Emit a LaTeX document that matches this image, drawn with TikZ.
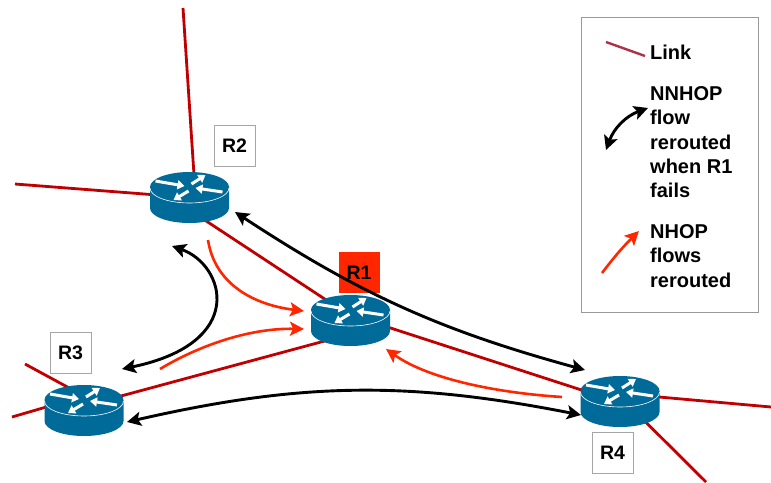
\documentclass[tikz,border=0pt]{standalone}
\usepackage{fontspec}
\setmainfont{Liberation Sans}
\usetikzlibrary{arrows.meta}
\usetikzlibrary{positioning}

\definecolor{linkred}{HTML}{C00000}
\definecolor{legendred}{HTML}{B03048}
\definecolor{flowred}{HTML}{FF2600}
\definecolor{routerblue}{HTML}{006A98}

\tikzset{
    routernode/.style={minimum width=79pt, minimum height=52pt, inner sep=0pt},
    linkline/.style={linkred, line width=2.8pt},
    nnhop/.style={black, line width=2.9pt, {Stealth[length=14pt,width=14pt,inset=3pt]}-{Stealth[length=14pt,width=14pt,inset=3pt]}},
    nhop/.style={flowred, line width=2.6pt, -{Stealth[length=14pt,width=14pt,inset=3pt]}},
    namebox/.style={draw=gray!70, line width=0.9pt, fill=white, minimum size=41pt, inner sep=0pt, font=\fontsize{19.5}{23}\selectfont\bfseries},
    legendtext/.style={anchor=north west, align=left, inner sep=0pt, font=\fontsize{20}{24.3}\selectfont\bfseries},
    routerarrow/.style={white, line width=3pt, -{Triangle[length=7pt,width=9pt]}},
    routericon/.pic={
        \fill[routerblue] (-39.5,0) -- (-39.5,21) arc[start angle=180, end angle=360, x radius=39.5pt, y radius=15pt] -- (39.5,0) arc[start angle=0, end angle=180, x radius=39.5pt, y radius=15pt] -- cycle;
        \draw[white, line width=0.6pt] (-39.5,1) arc[start angle=180, end angle=360, x radius=39.5pt, y radius=15pt];
        \draw[routerarrow] (-34,-6) -- (-5,-1);
        \draw[routerarrow] (2,-3) -- (16,-12);
        \draw[routerarrow] (33,5) -- (6,1);
        \draw[routerarrow] (-1,4) -- (-16,13);
    }
}

\begin{document}
\begin{tikzpicture}[x=1pt, y=-1pt]
    \useasboundingbox (0,0) rectangle (771,482);

    % Routers
    \node[routernode] (r1) at (350.5,321) {};
    \node[routernode] (r2) at (189.5,197.5) {};
    \node[routernode] (r3) at (84,411) {};
    \node[routernode] (r4) at (620,401.5) {};

    % Free ends of the links
    \coordinate (r2top) at (183,8);
    \coordinate (r2left) at (15,184);
    \coordinate (r3top) at (25,364);
    \coordinate (r3left) at (12,417);
    \coordinate (r4right) at (771,407);
    \coordinate (r4down) at (706,482);

    % Links
    \draw[linkline] (r2top) -- ([xshift=6pt]r2.center);
    \draw[linkline] (r2left) -- (r2.center);
    \draw[linkline] ([yshift=-12.5pt]r2.center) -- ([yshift=5pt]r1.center);
    \draw[linkline] ([yshift=5pt]r3.center) -- ([yshift=-13pt]r1.center);
    \draw[linkline] ([yshift=6pt]r1.center) -- ([yshift=-1pt]r4.center);
    \draw[linkline] (r3top) -- ([yshift=15pt]r3.center);
    \draw[linkline] (r3left) -- ([yshift=15pt]r3.center);
    \draw[linkline] (r4right) -- ([yshift=8pt]r4.center);
    \draw[linkline] (r4down) -- ([yshift=5pt]r4.center);

    % Router icons
    \foreach \name/\cx/\cy in {r1/350.5/310, r2/189.5/187, r3/84/400, r4/620/391}
        \pic at (\cx,\cy) {routericon};

    % Router names
    \node[namebox] (nameR2) at (234.5,146) {R2};
    \node[namebox, fill=flowred, draw=none] (nameR1) at (359,272.5) {R1};
    \node[namebox] (nameR3) at (70.5,353) {R3};
    \node[namebox] (nameR4) at (612.5,452.5) {R4};

    % Rerouted NNHOP flows
    \coordinate (nnA) at (235,212);
    \coordinate (nnB) at (585,370);
    \coordinate (nnC) at (172,246);
    \coordinate (nnD) at (122,369);
    \coordinate (nnE) at (127,422);
    \coordinate (nnF) at (581,415);
    \draw[nnhop] (nnA) to[bend right=9] (nnB);
    \draw[nnhop] (nnC) .. controls (225,265) and (248,343) .. (nnD);
    \draw[nnhop] (nnE) to[bend left=12] (nnF);

    % Rerouted NHOP flows
    \coordinate (nhA) at (208,240);
    \coordinate (nhB) at (304,311);
    \coordinate (nhC) at (160,369);
    \coordinate (nhD) at (304,329);
    \coordinate (nhE) at (562,397);
    \coordinate (nhF) at (386,349);
    \draw[nhop] (nhA) .. controls (215,285) and (255,305) .. (nhB);
    \draw[nhop] (nhC) .. controls (200,345) and (250,328) .. (nhD);
    \draw[nhop] (nhE) .. controls (500,393) and (430,380) .. (nhF);

    % Legend
    \node[draw=gray!80, line width=0.9pt, minimum width=177pt, minimum height=295pt, inner sep=0pt] (legend) at (669.5,164.5) {};
    \coordinate (keyA) at (606,42);
    \coordinate (keyB) at (645,56);
    \coordinate (keyC) at (606,150);
    \coordinate (keyD) at (648,108);
    \coordinate (keyE) at (602,273);
    \coordinate (keyF) at (639,231);
    \draw[legendred, line width=2.4pt] (keyA) -- (keyB);
    \draw[nnhop] (keyC) to[bend left=25] (keyD);
    \draw[nhop] (keyE) to[bend left=4] (keyF);
    \node[legendtext] (keyLink) at (650,44.5) {Link};
    \node[legendtext] (keyNNHOP) at (650,86.5) {NNHOP\\flow\\rerouted\\when R1\\fails};
    \node[legendtext] (keyNHOP) at (650,224.5) {NHOP\\flows\\rerouted};
\end{tikzpicture}
\end{document}
